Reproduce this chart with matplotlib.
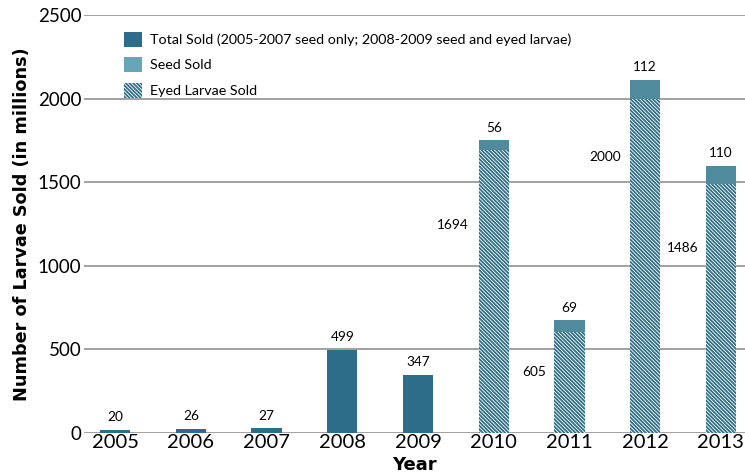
import numpy as np
import matplotlib
matplotlib.use("Agg")
import matplotlib.pyplot as plt
from matplotlib.patches import Patch

plt.rcParams["font.family"] = ["Lato", "DejaVu Sans"]
plt.rcParams["hatch.linewidth"] = 0.6

years = ["2005", "2006", "2007", "2008", "2009", "2010", "2011", "2012", "2013"]
total_sold = [20, 26, 27, 499, 347, 0, 0, 0, 0]
eyed_sold = [0, 0, 0, 0, 0, 1694, 605, 2000, 1486]
seed_sold = [0, 0, 0, 0, 0, 56, 69, 112, 110]

# where the eyed-larvae numbers sit (left of each stacked bar)
eyed_label_y = [1244, 365, 1650, 1104]
eyed_label_dx = [-0.54, -0.47, -0.53, -0.5]

c_total = "#2d6d89"
c_seed = "#4f8b9d"
c_seed_legend = "#68a5b9"
c_eyed = "#2f6f86"
hatch = "\\" * 9

fig = plt.figure(figsize=(7.45, 4.74), dpi=100)
ax = fig.add_axes([0.113, 0.0865, 0.887, 0.882])

x = np.arange(len(years))
w = 0.4
tot = np.array(total_sold)
eyed = np.array(eyed_sold)
seed = np.array(seed_sold)

early = tot > 0
late = eyed > 0
ax.bar(x[early], tot[early], width=w, color=c_total, zorder=3)
ax.bar(x[late], eyed[late], width=w, color=c_eyed, edgecolor="white",
       linewidth=0, hatch=hatch, zorder=3)
ax.bar(x[late], seed[late], bottom=eyed[late], width=w, color=c_seed, zorder=3)

for i in x[early]:
    ax.text(i, tot[i] + 40, str(tot[i]), ha="center", va="bottom", fontsize=9.8)
for k, i in enumerate(x[late]):
    ax.text(i, eyed[i] + seed[i] + 40, str(seed[i]), ha="center", va="bottom", fontsize=9.8)
    ax.text(i + eyed_label_dx[k], eyed_label_y[k], str(eyed[i]), ha="center",
            va="center", fontsize=9.8)

ax.set_xlim(-0.41, 8.32)
ax.set_ylim(0, 2500)
ax.set_yticks(np.arange(0, 2501, 500))
ax.set_xticks(x)
ax.set_xticklabels(years)
ax.tick_params(axis="y", length=0, labelsize=13.5, pad=2)
ax.tick_params(axis="x", length=0, labelsize=14.5, pad=1)
ax.grid(axis="y", color="#9a9a9a", linewidth=1.3, zorder=0)
ax.set_axisbelow(True)
for s in ax.spines.values():
    s.set_visible(False)

ax.set_ylabel("Number of Larvae Sold (in millions)", fontsize=12.7, fontweight="bold",
              family=["DejaVu Sans"], labelpad=5)
ax.set_xlabel("Year", fontsize=13, fontweight="bold", family=["DejaVu Sans"], labelpad=3)

handles = [
    Patch(facecolor=c_total, label="Total Sold (2005-2007 seed only; 2008-2009 seed and eyed larvae)"),
    Patch(facecolor=c_seed_legend, label="Seed Sold"),
    Patch(facecolor=c_eyed, edgecolor="white", linewidth=0, hatch=hatch, label="Eyed Larvae Sold"),
]
ax.legend(handles=handles, loc="upper left", bbox_to_anchor=(0.06, 0.96), frameon=False,
          fontsize=10.3, handlelength=1.25, handleheight=1.25, handletextpad=0.55,
          labelspacing=0.72, borderaxespad=0, borderpad=0)

fig.savefig("out.png", dpi=100)
